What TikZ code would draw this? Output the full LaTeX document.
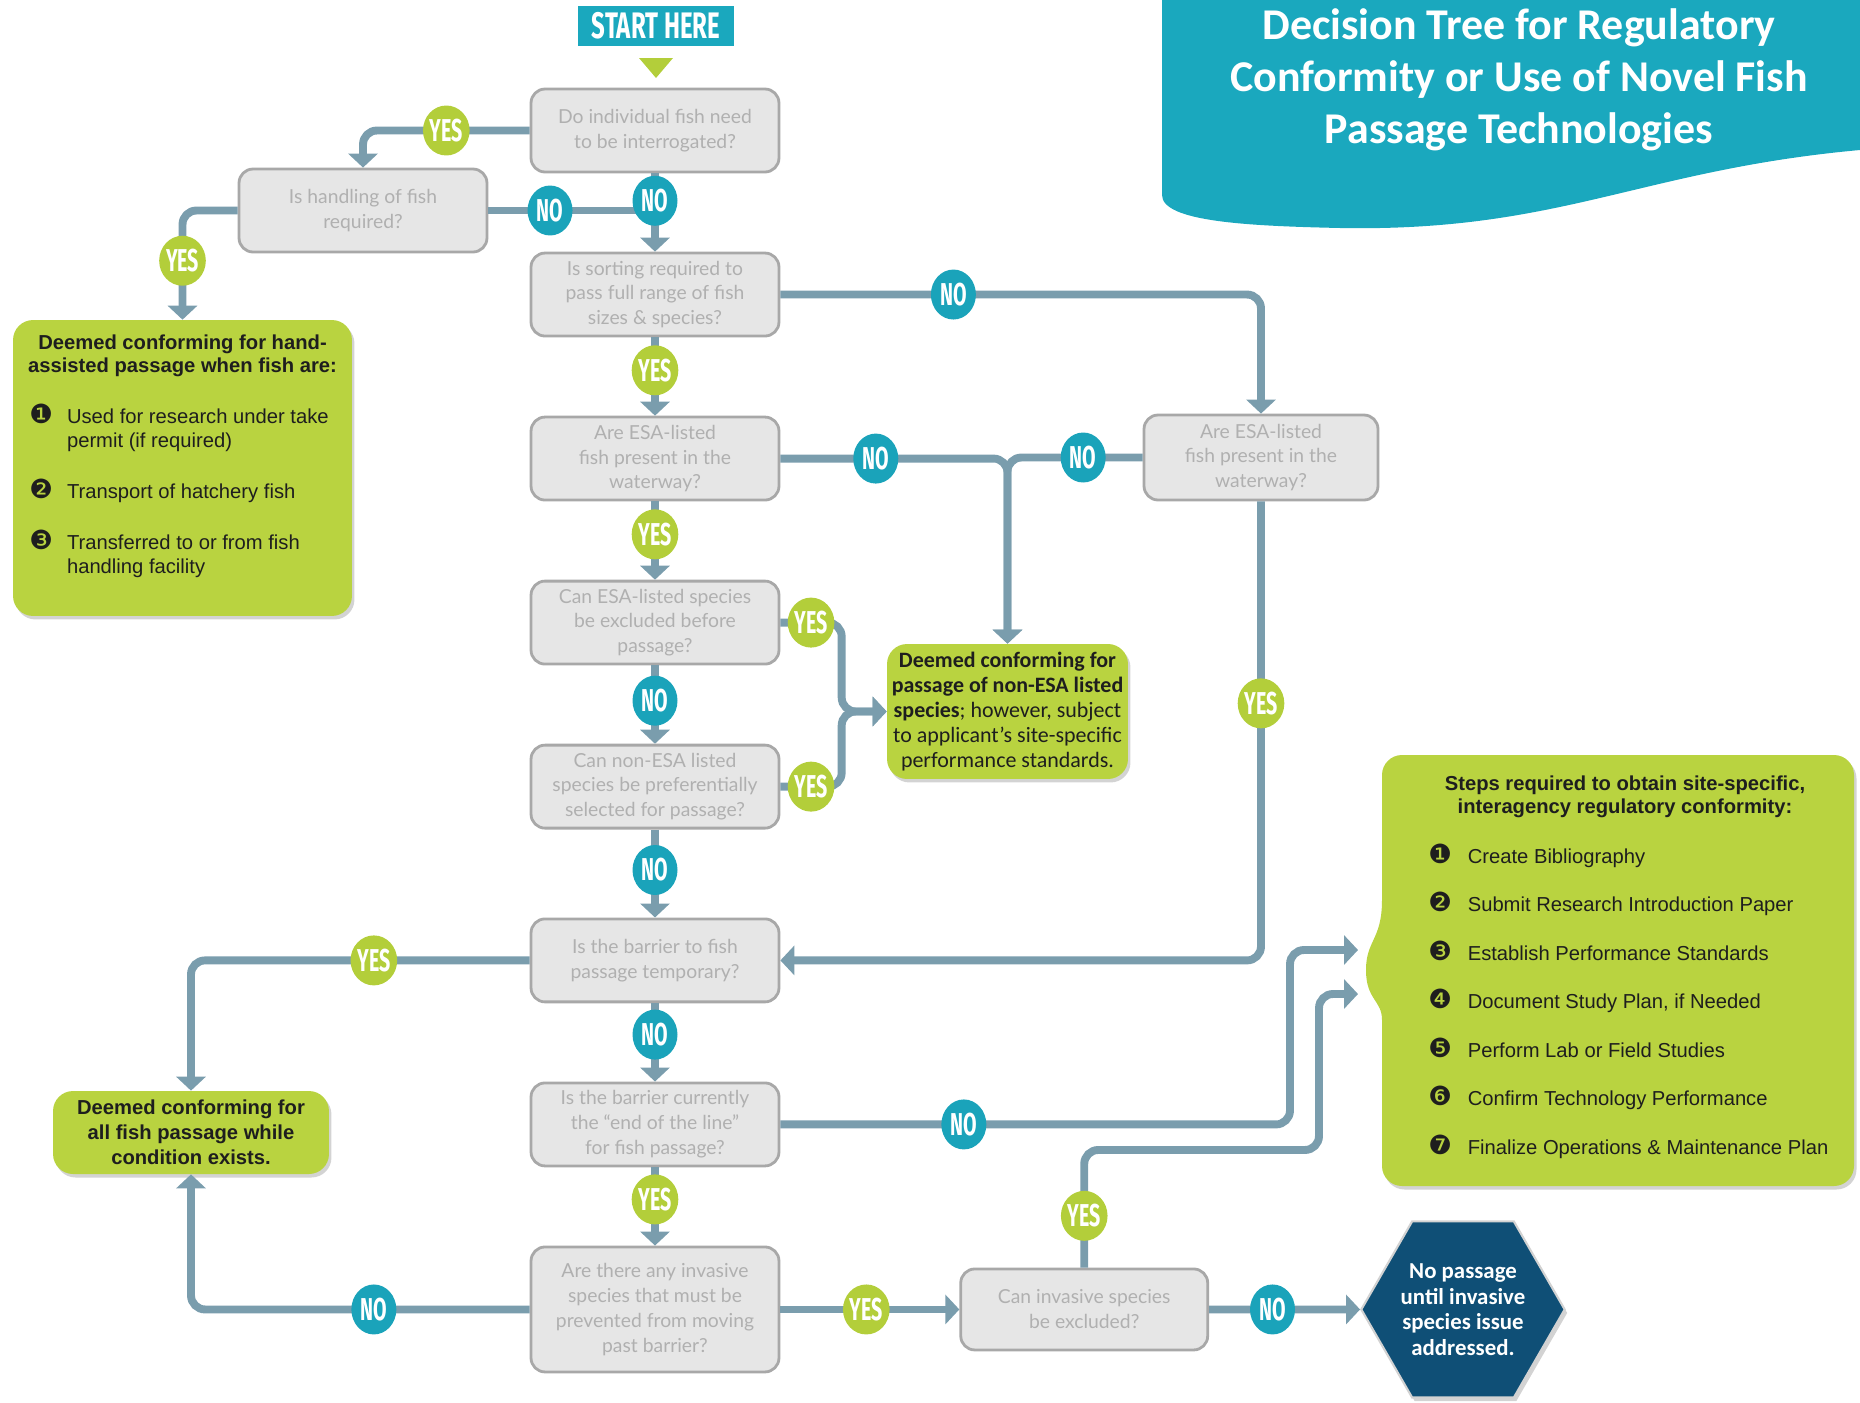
\documentclass[tikz,border=0pt]{standalone}
\usepackage{fontspec}
\setmainfont{Liberation Sans}
\newfontfamily\qfont{Lato}
\newfontfamily\cfont{Carlito}
\newfontfamily\bfont{Fira Sans}
\newfontfamily\dingfont{DejaVu Sans}
\usetikzlibrary{arrows.meta,positioning,shapes.geometric,shadows}

\definecolor{linec}{HTML}{7A9DAD}
\definecolor{noc}{HTML}{1AA3BA}
\definecolor{yesc}{HTML}{B3CE3A}
\definecolor{grn}{HTML}{B9D340}
\definecolor{qfill}{HTML}{E6E6E6}
\definecolor{qline}{HTML}{A8A8A8}
\definecolor{qtext}{HTML}{B0B0B0}
\definecolor{hexc}{HTML}{0F4F76}
\definecolor{banc}{HTML}{1AA8BE}
\definecolor{gtxt}{HTML}{1E1E1E}

\newcommand{\yn}[1]{\scalebox{0.62}[1]{#1}}
\newcommand{\dnum}[1]{{\dingfont\fontsize{15}{15}\selectfont #1}}

\begin{document}
\begin{tikzpicture}[x=0.02cm, y=-0.02cm, node distance=1.565cm]
\useasboundingbox (0,0) rectangle (1860,1403);
\tikzstyle{qbox}=[draw=qline, fill=qfill, rounded corners=0.28cm, line width=1.6pt,
  minimum width=4.96cm, minimum height=1.66cm, align=center, inner sep=2pt,
  text=qtext, font=\qfont\fontsize{11}{14.2}\selectfont]
\tikzstyle{gbox}=[fill=grn, rounded corners=0.4cm,
  drop shadow={shadow xshift=0.05cm, shadow yshift=-0.07cm, opacity=0.35}]
\tikzstyle{gtext}=[inner sep=0pt, text=gtxt, font=\fontsize{11.5}{13.7}\selectfont]
\tikzstyle{conn0}=[draw=linec, line width=4.5pt, rounded corners=0.28cm]
\tikzstyle{conn}=[conn0, -{Triangle[width=0.58cm, length=0.28cm]}]
\tikzstyle{ybadge}=[ellipse, fill=yesc, text=white, minimum width=0.9cm,
  minimum height=1cm, inner sep=0pt, font=\bfont\bfseries\fontsize{18}{18}\selectfont]
\tikzstyle{nbadge}=[ybadge, fill=noc]

% title banner
\fill[banc] (1162,0) -- (1860,0) -- (1860,150)
  .. controls (1640,170) and (1560,232) .. (1340,228)
  .. controls (1250,226) and (1162,222) .. (1162,195) -- cycle;
\node[text=white, align=center, font=\cfont\bfseries\fontsize{25}{29.5}\selectfont] (ttl) at (1519,80)
  {Decision Tree for Regulatory\\Conformity or Use of Novel Fish\\Passage Technologies};

% start
\node[fill=banc, minimum width=3.12cm, minimum height=0.82cm, text=white,
  font=\bfont\bfseries\fontsize{21}{21}\selectfont] (start) at (656,26) {\scalebox{0.65}[1]{START HERE}};
\fill[yesc] (639,58) -- (673,58) -- (656,78) -- cycle;

% questions
\node[qbox] (q1) at (655,130.5) {Do individual fish need\\to be interrogated?};
\node[qbox] (q2) at (363,210.5) {Is handling of fish\\required?};
\node[qbox, below=of q1] (q3) {Is sorting required to\\pass full range of fish\\sizes \& species?};
\node[qbox, below=of q3] (q4) {Are ESA-listed\\fish present in the\\waterway?};
\node[qbox, below=of q4] (q5) {Can ESA-listed species\\be excluded before\\passage?};
\node[qbox, below=of q5] (q6) {Can non-ESA listed\\species be preferentially\\selected for passage?};
\node[qbox, below=1.76cm of q6] (q7) {Is the barrier to fish\\passage temporary?};
\node[qbox, below=of q7] (q8) {Is the barrier currently\\the “end of the line”\\for fish passage?};
\node[qbox, below=of q8, minimum height=2.5cm] (q9) {Are there any invasive\\species that must be\\prevented from moving\\past barrier?};
\node[qbox, right=3.58cm of q9, minimum width=4.94cm, minimum height=1.62cm] (q10) {Can invasive species\\be excluded?};
\node[qbox, minimum width=4.68cm, minimum height=1.7cm] (q11) at (1261,457.5) {Are ESA-listed\\fish present in the\\waterway?};

% outcomes
\node[gbox, minimum width=6.78cm, minimum height=5.92cm] (hand) at (182.5,468) {};
\node[gtext, align=center, below=0.3cm of hand.north, font=\bfseries\fontsize{11.5}{12.8}\selectfont] (handh)
  {Deemed conforming for hand-\\assisted passage when fish are:};
\node[gtext, anchor=north west] (handl) at (29,404) {\begin{tabular}{@{}l@{\hspace{8pt}}l@{}}
  \dnum{❶} & Used for research under take\\
   & permit (if required)\\[13.7pt]
  \dnum{❷} & Transport of hatchery fish\\[13.7pt]
  \dnum{❸} & Transferred to or from fish\\
   & handling facility
  \end{tabular}};

\node[gbox, minimum width=4.82cm, minimum height=2.7cm, align=center, inner xsep=0pt, text=gtxt,
  font=\cfont\fontsize{12.5}{14.2}\selectfont] (ne) at (1007.5,711.5)
  {\textbf{Deemed conforming for}\\\textbf{passage of non-ESA listed}\\\textbf{species}; however, subject\\to applicant’s site-specific\\performance standards.};

\node[gbox, minimum width=5.52cm, minimum height=1.66cm, align=center, text=gtxt,
  font=\bfseries\fontsize{11.5}{14.2}\selectfont] (allf) at (191,1132.5)
  {Deemed conforming for\\all fish passage while\\condition exists.};

\node[regular polygon, regular polygon sides=6, minimum size=4.02cm, inner sep=0pt,
  fill=hexc, draw=gray!35, line width=1.2pt, text=white, align=center,
  font=\cfont\bfseries\fontsize{13}{14.5}\selectfont,
  drop shadow={shadow xshift=0.05cm, shadow yshift=-0.07cm, opacity=0.35},
  right=3.02cm of q10] (hex) {No passage\\until invasive\\species issue\\addressed.};

\fill[gbox] (1382,900) -- (1382,755) -- (1854,755) -- (1854,1186) -- (1382,1186) -- (1382,1040)
  [sharp corners] .. controls (1382,1000) and (1366,1000) .. (1366,970)
  .. controls (1366,940) and (1382,940) .. (1382,900) -- cycle;
\node[gtext, align=center, font=\bfseries\fontsize{11.5}{12.8}\selectfont] (stph) at (1625,797)
  {Steps required to obtain site-specific,\\interagency regulatory conformity:};
\node[gtext, anchor=north west, font=\fontsize{11.5}{27.6}\selectfont] (stpl) at (1428,829) {\begin{tabular}{@{}l@{\hspace{9pt}}l@{}}
  \dnum{❶} & Create Bibliography\\
  \dnum{❷} & Submit Research Introduction Paper\\
  \dnum{❸} & Establish Performance Standards\\
  \dnum{❹} & Document Study Plan, if Needed\\
  \dnum{❺} & Perform Lab or Field Studies\\
  \dnum{❻} & Confirm Technology Performance\\
  \dnum{❼} & Finalize Operations \& Maintenance Plan
  \end{tabular}};
\coordinate (in1) at (1358,950);
\coordinate (in2) at (1358,994);

% connectors
\draw[conn] (q1.west) -| node[ybadge, pos=0.25] {\yn{YES}} (q2.north);
\draw[conn0] (q2.east) -- node[nbadge, pos=0.37] {\yn{NO}} (q2.east -| q1.south);
\draw[conn] (q1) -- node[nbadge, pos=0.35] {\yn{NO}} (q3);
\draw[conn] (q2.west) -| node[ybadge, pos=0.73] {\yn{YES}} (hand.north);
\draw[conn] (q3.east) -| node[nbadge, pos=0.18] {\yn{NO}} (q11.north);
\draw[conn] (q3) -- node[ybadge, pos=0.42] {\yn{YES}} (q4);
\draw[conn] (q4.east) -| node[nbadge, pos=0.21] {\yn{NO}} (ne.north);
\draw[conn] (q11.west) -| node[nbadge, pos=0.22] {\yn{NO}} (ne.north);
\draw[conn] (q4) -- node[ybadge, pos=0.42] {\yn{YES}} (q5);
\coordinate (mrg) at ([xshift=-0.9cm]ne.west);
\draw[conn] (q5.east) -| node[ybadge, pos=0.25] {\yn{YES}} (mrg) -- (ne.west);
\draw[conn] (q6.east) -| node[ybadge, pos=0.25] {\yn{YES}} (mrg) -- (ne.west);
\draw[conn] (q5) -- node[nbadge, pos=0.45] {\yn{NO}} (q6);
\draw[conn] (q6) -- node[nbadge, pos=0.46] {\yn{NO}} (q7);
\draw[conn] (q11.south) |- node[ybadge, pos=0.22] {\yn{YES}} (q7.east);
\draw[conn] (q7.west) -| node[ybadge, pos=0.23] {\yn{YES}} (allf.north);
\draw[conn] (q7) -- node[nbadge, pos=0.4] {\yn{NO}} (q8);
\draw[conn] (q8.east) -| node[nbadge, pos=0.18] {\yn{NO}} ([xshift=-1.36cm]in1) -- (in1);
\draw[conn] (q8) -- node[ybadge, pos=0.41] {\yn{YES}} (q9);
\draw[conn] (q9.west) -| node[nbadge, pos=0.23] {\yn{NO}} (allf.south);
\draw[conn] (q9) -- node[ybadge, pos=0.48] {\yn{YES}} (q10);
\draw[conn] (q10.north) |- node[ybadge, pos=0.22] {\yn{YES}} ([shift={(-0.78cm,-3.12cm)}]in2) |- (in2);
\draw[conn] (q10) -- node[nbadge, pos=0.42] {\yn{NO}} (hex);
\end{tikzpicture}
\end{document}
